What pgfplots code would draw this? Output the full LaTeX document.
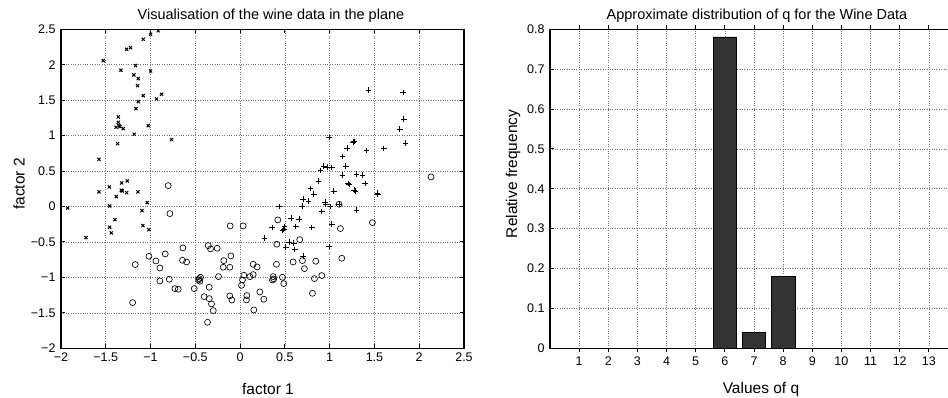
\documentclass[border=0pt]{standalone}
\usepackage{fontspec}
\setmainfont{Liberation Sans}
\usepackage{pgfplots}
\pgfplotsset{compat=1.18}
\pgfplotsset{
  mstyle/.style={
    scale only axis, anchor=south west,
    axis line style={line width=1.3pt, black},
    tick align=inside, major tick length=4pt,
    tick style={line width=1pt, black},
    grid=major, major grid style={dotted, black!55, line width=0.6pt},
    ticklabel style={font=\fontsize{12.5}{14}\selectfont},
    yticklabel style={xshift=-2pt},
    xticklabel style={yshift=-1pt},
    /pgf/number format/assume math mode=true,
  }
}
\begin{document}
\begin{tikzpicture}[x=1pt,y=1pt]
\useasboundingbox (0,0) rectangle (948,398);
\begin{axis}[mstyle, at={(61pt,49.7pt)}, width=403pt, height=319pt,
  xmin=-2, xmax=2.5, ymin=-2, ymax=2.5,
  xtick={-2,-1.5,-1,-0.5,0,0.5,1,1.5,2,2.5},
  xticklabels={−2,−1.5,−1,−0.5,0,0.5,1,1.5,2,2.5},
  ytick={-2,-1.5,-1,-0.5,0,0.5,1,1.5,2,2.5},
  yticklabels={−2,−1.5,−1,−0.5,0,0.5,1,1.5,2,2.5}]
% class: x markers
\addplot[only marks, mark=x, mark size=2.2pt, mark options={line width=1pt, black}] coordinates {
(-0.914,2.48) (-1.000,2.429) (-1.081,2.359) (-1.223,2.241) (-1.267,2.218)
(-1.528,2.058) (-1.167,1.988) (-1.331,1.922) (-1.000,1.912) (-1.186,1.856)
(-1.137,1.804) (-1.145,1.705) (-0.877,1.583) (-1.081,1.564) (-0.933,1.517)
(-1.137,1.480) (-1.163,1.381) (-1.360,1.264) (-1.360,1.188) (-1.386,1.118)
(-1.353,1.141) (-1.305,1.099) (-1.026,1.141) (-1.182,1.019) (-0.765,0.944)
(-1.368,0.887) (-1.576,0.666) (-1.461,0.276) (-1.260,0.361) (-1.323,0.333)
(-1.327,0.229) (-1.316,0.220) (-1.576,0.206) (-1.267,0.196) (-1.141,0.206)
(-1.383,0.140) (-1.037,0.055) (-1.457,0.008) (-1.926,-0.020) (-1.096,-0.058)
(-1.398,-0.185) (-1.457,-0.293) (-1.085,-0.269) (-1.018,-0.326) (-1.438,-0.373)
(-1.721,-0.438) (-1.342,1.127) (-1.320,0.226)
};
% class: circles
\addplot[only marks, mark=o, mark size=3pt, mark options={line width=0.65pt, black}] coordinates {
(-0.803,0.295) (-0.784,-0.100) (-0.111,-0.274) (0.034,-0.274) (0.421,-0.189)
(1.105,0.032) (1.120,-0.311) (1.477,-0.227) (2.132,0.417) (0.666,-0.467)
(0.410,-0.532) (-0.639,-0.584) (-1.018,-0.702) (-0.940,-0.768) (-0.836,-0.669)
(-1.171,-0.819) (-0.896,-0.866) (-0.643,-0.758) (-0.598,-0.782) (-0.356,-0.551)
(-0.330,-0.598) (-0.256,-0.589) (-0.103,-0.697) (-0.182,-0.763) (-0.189,-0.857)
(-0.115,-0.857) (-0.241,-0.989) (-0.457,-1.017) (-0.449,-1.054) (-0.464,-1.036)
(-0.442,-0.998) (-0.791,-1.026) (-0.896,-1.050) (-0.728,-1.158) (-0.691,-1.167)
(-0.512,-1.158) (-0.345,-1.139) (-0.401,-1.271) (-0.345,-1.299) (-0.319,-1.374)
(-0.300,-1.468) (-0.364,-1.633) (-1.200,-1.355) (-0.115,-1.261) (-0.092,-1.318)
(0.016,-1.111) (0.027,-1.036) (0.042,-0.970) (0.109,-0.989) (0.146,-0.960)
(0.146,-0.815) (0.190,-0.852) (0.075,-1.256) (0.071,-1.318) (0.220,-1.205)
(0.265,-1.308) (0.153,-1.459) (0.369,-0.989) (0.376,-1.021) (0.473,-0.998)
(0.488,-1.087) (0.406,-0.815) (0.592,-0.782) (0.696,-0.763) (0.718,-0.876)
(0.845,-0.772) (0.830,-1.017) (0.912,-0.974) (0.808,-1.224) (1.135,-0.730)
(0.361,-1.036)
};
% class: plus markers
\addplot[only marks, mark=+, mark size=2.8pt, mark options={line width=0.75pt, black}] coordinates {
(1.432,1.644) (1.819,1.607) (1.827,1.235) (1.782,1.090) (1.845,0.892)
(0.994,0.972) (1.261,0.906) (1.273,0.920) (1.194,0.826) (1.142,0.704)
(1.410,0.793) (1.604,0.817) (1.180,0.572) (1.142,0.445) (1.299,0.460)
(1.366,0.445) (0.934,0.572) (0.971,0.554) (1.023,0.549) (0.897,0.507)
(0.875,0.356) (1.206,0.323) (1.217,0.309) (1.395,0.323) (0.785,0.257)
(0.823,0.173) (1.046,0.220) (1.273,0.234) (1.287,0.220) (1.533,0.187)
(1.537,0.178) (0.704,0.107) (0.763,0.074) (0.692,0.008) (0.949,0.065)
(0.957,0.027) (0.912,-0.072) (1.009,-0.001) (1.299,-0.048) (0.436,-0.001)
(0.570,-0.166) (0.659,-0.180) (0.358,-0.297) (0.495,-0.283) (0.488,-0.316)
(0.473,-0.340) (0.622,-0.283) (0.800,-0.297) (1.023,-0.250) (0.272,-0.443)
(0.547,-0.500) (0.599,-0.518) (0.510,-0.575) (0.611,-0.608) (0.994,-0.565)
(0.704,-0.697) (1.105,0.036)
};
\end{axis}
\begin{axis}[mstyle, at={(550pt,49.7pt)}, width=408pt, height=319pt,
  xmin=0, xmax=14, ymin=0, ymax=0.8,
  xtick={1,2,...,13},
  ytick={0,0.1,0.2,0.3,0.4,0.5,0.6,0.7,0.8},
  yticklabels={0,0.1,0.2,0.3,0.4,0.5,0.6,0.7,0.8},
  ybar, bar width=0.8]
\addplot[fill=black!80, draw=black, line width=0.6pt] coordinates {
(6,0.781) (7,0.039) (8,0.180)
};
\end{axis}
\node[anchor=base, font=\fontsize{14.5}{16}\selectfont] at (271,378.5) {Visualisation of the wine data in the plane};
\node[anchor=base, font=\fontsize{14.5}{16}\selectfont] at (757,378.5) {Approximate distribution of q for the Wine Data};
\node[anchor=base, font=\fontsize{15.5}{17}\selectfont] at (268,3) {factor 1};
\node[anchor=base, font=\fontsize{15.5}{17}\selectfont] at (761,4) {Values of q};
\node[anchor=base, rotate=90, font=\fontsize{15.5}{17}\selectfont] at (24.5,214) {factor 2};
\node[anchor=base, rotate=90, font=\fontsize{15.5}{17}\selectfont] at (517,224) {Relative frequency};
\end{tikzpicture}
\end{document}
